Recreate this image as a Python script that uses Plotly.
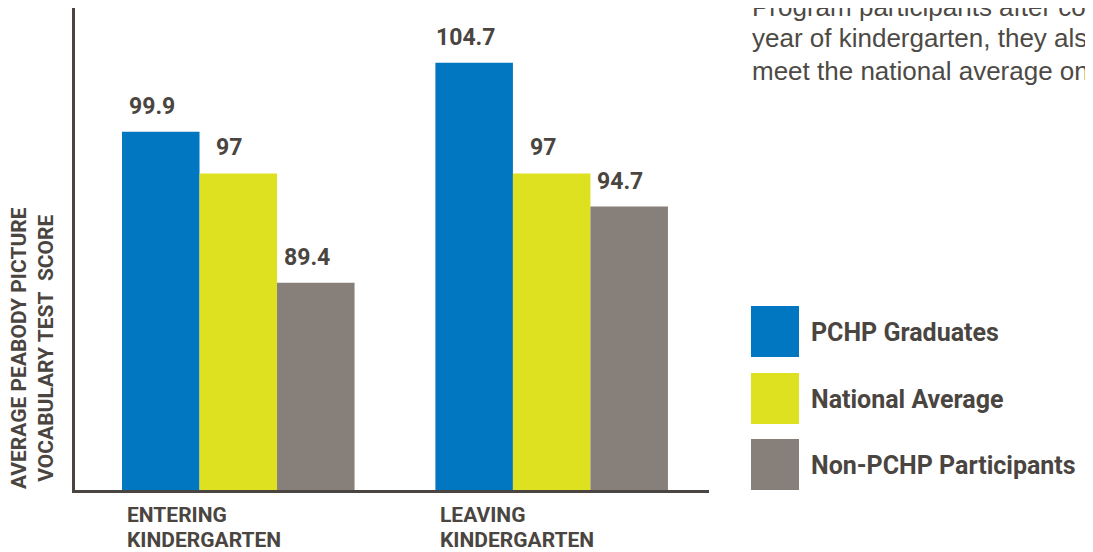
import plotly.graph_objects as go

categories = ["ENTERING KINDERGARTEN", "LEAVING KINDERGARTEN"]
category_lines = [["ENTERING", "KINDERGARTEN"], ["LEAVING", "KINDERGARTEN"]]
series_names = ["PCHP Graduates", "National Average", "Non-PCHP Participants"]
pchp = [99.9, 104.7]
national = [97, 97]
non_pchp = [89.4, 94.7]
value_labels = [["99.9", "104.7"], ["97", "97"], ["89.4", "94.7"]]
colors = ["#0077c0", "#dde11f", "#877f79"]
y_title_lines = ["AVERAGE PEABODY PICTURE", "VOCABULARY TEST\u00a0 SCORE"]
intro_lines = ["Program participants after completing a",
               "year of kindergarten, they also",
               "meet the national average on"]

TXT = "#4a4540"
# the page body has an 8px margin, so the figure is drawn 8px smaller
W, H = 1085, 544
ML, MR, MT, MB = 67, 384, 0, 62
PW = W - ML - MR
PH = H - MT - MB


def px(x):  # reference-picture x pixel -> paper
    return (x - 75) / PW


def py(y):  # reference-picture y pixel -> paper
    return (490 - y) / PH


series = [pchp, national, non_pchp]
fig = go.Figure()
for name, vals, col in zip(series_names, series, colors):
    fig.add_trace(go.Bar(x=list(range(len(categories))), y=vals, name=name,
                         marker=dict(color=col, line=dict(width=0)),
                         hovertext=categories, showlegend=False))

bargap = 0.258
bw = (1 - bargap) / 3
annotations = []
for j, vals in enumerate(series):
    for i, v in enumerate(vals):
        annotations.append(dict(x=i + (j - 1) * bw, y=v, xref="x", yref="y",
                                text=value_labels[j][i], showarrow=False,
                                xanchor="center", yanchor="bottom",
                                yshift=10, xshift=-9,
                                font=dict(family="Roboto", size=23, color=TXT,
                                          weight="bold")))

# category labels, left aligned under the first bar of each group
for i, lines in enumerate(category_lines):
    for line, yc in zip(lines, [515, 540]):
        annotations.append(dict(x=i - 1.5 * bw, y=py(yc), xref="x",
                                yref="paper", text=line, showarrow=False,
                                xanchor="left", yanchor="middle", xshift=3,
                                font=dict(family="Roboto", size=21, color=TXT,
                                          weight="bold")))

# rotated y title
annotations.append(dict(x=px(33), y=py(348), xref="paper", yref="paper",
                        text="<br>".join(y_title_lines), textangle=-90,
                        showarrow=False, xanchor="center", yanchor="middle",
                        font=dict(family="Roboto", size=21, color=TXT,
                                  weight="bold")))

# intro text (cut off at the edges as in the source)
for line, yc in zip(intro_lines, [7, 38, 71]):
    annotations.append(dict(x=px(750), y=py(yc), xref="paper", yref="paper",
                            text=line, showarrow=False, xanchor="left",
                            yanchor="middle",
                            font=dict(family="Liberation Sans", size=26,
                                      color="#4d4a45")))

# legend drawn by hand (large swatches)
shapes = []
leg_tops = [306, 373, 439]
for name, col, top in zip(series_names, colors, leg_tops):
    shapes.append(dict(type="rect", xref="paper", yref="paper",
                       x0=px(751), x1=px(799), y0=py(top + 51), y1=py(top),
                       fillcolor=col, line=dict(width=0)))
    annotations.append(dict(x=px(809), y=py(top + 26), xref="paper",
                            yref="paper", text=name, showarrow=False,
                            xanchor="left", yanchor="middle",
                            font=dict(family="Roboto", size=25, color=TXT,
                                      weight="bold")))

fig.update_layout(
    width=W, height=H,
    margin=dict(l=ML, r=MR, t=MT, b=MB),
    paper_bgcolor="white", plot_bgcolor="white",
    barmode="group", bargap=bargap, bargroupgap=0,
    xaxis=dict(range=[-0.521, 1.502], showticklabels=False, ticks="",
               showgrid=False, zeroline=False, showline=True,
               linecolor=TXT, linewidth=2.5),
    yaxis=dict(range=[75, 108.5], showticklabels=False, ticks="",
               showgrid=False, zeroline=False, showline=True,
               linecolor=TXT, linewidth=2.5),
    annotations=annotations, shapes=shapes,
)

fig.write_html("out.html")
